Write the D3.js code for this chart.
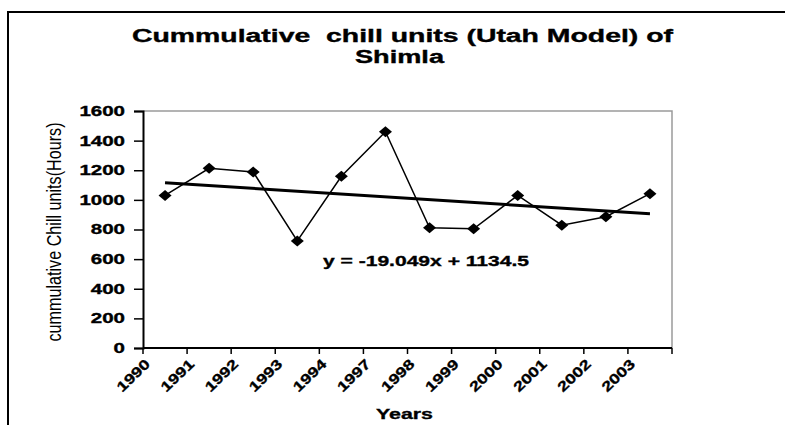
<!DOCTYPE html>
<html>
<head>
<meta charset="utf-8">
<script src="https://cdn.jsdelivr.net/npm/d3@7"></script>
<style>
  html, body { margin: 0; padding: 0; background: #fff; }
  svg { display: block; font-family: Arial, "Liberation Sans", sans-serif; }
  .heavy { font-weight: bold; stroke: #000; stroke-width: 0.35px; }
</style>
</head>
<body>
<svg id="chart" width="785" height="425"></svg>
<script>
// Cumulative chill units (Utah model), Shimla
const years = ["1990", "1991", "1992", "1993", "1994", "1997", "1998", "1999", "2000", "2001", "2002", "2003"];
const chillUnits = [1030, 1213, 1188, 723, 1159, 1460, 811, 805, 1030, 829, 886, 1042];
const yTicks = [0, 200, 400, 600, 800, 1000, 1200, 1400, 1600];
// Linear trend reported on the chart: y = slope * x + intercept, x = 1..n
const trendSlope = -19.049;
const trendIntercept = 1134.5;

const svg = d3.select("#chart");
const plot = { left: 143, right: 672, top: 111, bottom: 348 };

// outer frame (top and left edges show inside the window)
svg.append("path")
  .attr("d", "M785,12 H8 V425")
  .attr("fill", "none").attr("stroke", "#000").attr("stroke-width", 2);

const x = d3.scaleBand().domain(years).range([plot.left, plot.right]).padding(0);
const y = d3.scaleLinear().domain([0, 1600]).range([plot.bottom, plot.top]);

// plot area border (top and right)
svg.append("path")
  .attr("d", `M${plot.left},${plot.top} H${plot.right} V${plot.bottom}`)
  .attr("fill", "none").attr("stroke", "#9a9a9a").attr("stroke-width", 1.5);

// y axis
const yAxis = svg.append("g")
  .attr("transform", `translate(${plot.left},0)`)
  .call(d3.axisLeft(y).tickValues(yTicks).tickSize(9).tickPadding(9).tickFormat(d3.format("d")));
yAxis.select(".domain").attr("stroke", "#000").attr("stroke-width", 2);
yAxis.selectAll(".tick line").attr("stroke", "#000").attr("stroke-width", 1.5);
yAxis.selectAll(".tick text")
  .attr("class", "heavy")
  .attr("fill", "#000")
  .style("font-size", "14px")
  .attr("textLength", d => String(d).length * 11.4)
  .attr("lengthAdjust", "spacingAndGlyphs");

// x axis: ticks on category boundaries
const boundaries = d3.range(years.length + 1).map(i => plot.left + i * x.bandwidth());
const xAxis = svg.append("g");
xAxis.append("line")
  .attr("x1", plot.left).attr("x2", plot.right)
  .attr("y1", plot.bottom).attr("y2", plot.bottom)
  .attr("stroke", "#000").attr("stroke-width", 2);
xAxis.selectAll("line.tk").data(boundaries).join("line")
  .attr("class", "tk")
  .attr("x1", d => d).attr("x2", d => d)
  .attr("y1", plot.bottom).attr("y2", plot.bottom + 6)
  .attr("stroke", "#000").attr("stroke-width", 1.5);
xAxis.selectAll("text").data(years).join("text")
  .attr("class", "heavy")
  .attr("transform", (d, i) => `translate(${x(d) + 8},${plot.bottom + 17}) rotate(-44)`)
  .attr("text-anchor", "end")
  .style("font-size", "14px")
  .attr("textLength", 40).attr("lengthAdjust", "spacingAndGlyphs")
  .text(d => d);

// trend line
const cx = d => x(d) + x.bandwidth() / 2;
const trend = [1, years.length].map(n => ({ year: years[n - 1], v: trendSlope * n + trendIntercept }));
svg.append("path")
  .datum(trend)
  .attr("d", d3.line().x(d => cx(d.year)).y(d => y(d.v)))
  .attr("fill", "none").attr("stroke", "#000").attr("stroke-width", 3);

// series line
const pts = years.map((yr, i) => ({ year: yr, v: chillUnits[i] }));
svg.append("path")
  .datum(pts)
  .attr("d", d3.line().x(d => cx(d.year)).y(d => y(d.v)))
  .attr("fill", "none").attr("stroke", "#000").attr("stroke-width", 1.5);

// diamond markers
svg.selectAll("path.mk").data(pts).join("path")
  .attr("class", "mk")
  .attr("d", "M0,-5.5 L6.5,0 L0,5.5 L-6.5,0 Z")
  .attr("transform", d => `translate(${cx(d.year)},${y(d.v)})`)
  .attr("fill", "#000");

// trend equation label
svg.append("text")
  .attr("class", "heavy")
  .attr("x", 323).attr("y", 266)
  .style("font-size", "15px")
  .attr("textLength", 206).attr("lengthAdjust", "spacingAndGlyphs")
  .text(`y = ${trendSlope}x + ${trendIntercept}`);

// title
svg.append("text")
  .attr("class", "heavy")
  .attr("x", 132).attr("y", 42)
  .style("font-size", "17.5px").style("white-space", "pre")
  .attr("textLength", 541).attr("lengthAdjust", "spacingAndGlyphs")
  .text("Cummulative  chill units (Utah Model) of");
svg.append("text")
  .attr("class", "heavy")
  .attr("x", 355).attr("y", 63)
  .style("font-size", "17.5px")
  .attr("textLength", 89).attr("lengthAdjust", "spacingAndGlyphs")
  .text("Shimla");

// axis titles
svg.append("text")
  .attr("class", "heavy")
  .attr("x", 376).attr("y", 419)
  .style("font-size", "15px")
  .attr("textLength", 57).attr("lengthAdjust", "spacingAndGlyphs")
  .text("Years");
svg.append("text")
  .attr("transform", "translate(61,232) rotate(-90) scale(1,1.3)")
  .attr("text-anchor", "middle")
  .style("font-size", "15.5px")
  .attr("textLength", 219).attr("lengthAdjust", "spacingAndGlyphs")
  .text("cummulative Chill units(Hours)");
</script>
</body>
</html>
